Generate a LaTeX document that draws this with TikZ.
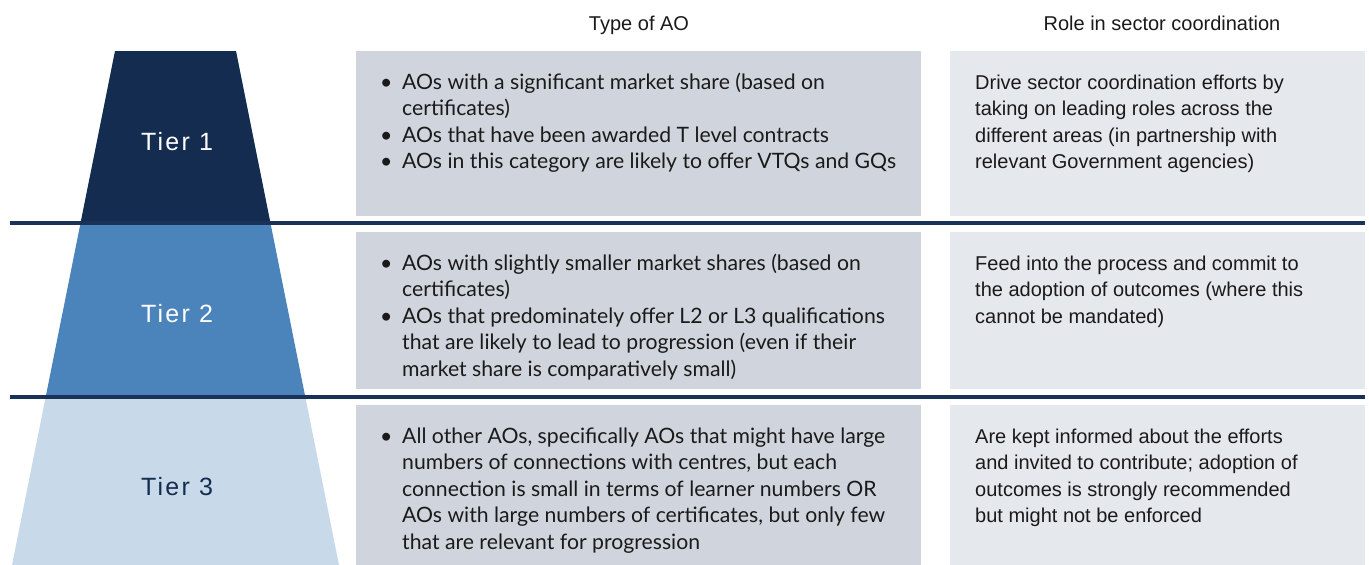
\documentclass[tikz,border=0pt]{standalone}
\usepackage{fontspec}
\setmainfont{Lato}
\newfontfamily\arialfont{Liberation Sans}
\newfontfamily\tierfont[LetterSpace=9]{Liberation Sans}

\definecolor{tierone}{HTML}{142C4F}
\definecolor{tiertwo}{HTML}{4A84BB}
\definecolor{tierthree}{HTML}{C8DAEA}
\definecolor{rulecol}{HTML}{1A3257}
\definecolor{midbox}{HTML}{D0D5DD}
\definecolor{rightbox}{HTML}{E5E8EC}
\definecolor{bodytext}{HTML}{1A1A1A}

% bullet with hanging indent
\newcommand\bl{\makebox[22pt][l]{\textbullet}}
\newcommand\hg{\hspace*{22pt}}

\begin{document}
\begin{tikzpicture}[x=1pt,y=-1pt,
  header/.style={anchor=base, inner sep=0, text=bodytext, font=\arialfont\fontsize{20}{24}\selectfont},
  tierlabel/.style={anchor=base, inner sep=0, font=\tierfont\fontsize{25}{30}\selectfont},
  midtext/.style={anchor=base west, inner sep=0, text=bodytext, font=\fontsize{21.2}{26.5}\selectfont},
  roletext/.style={anchor=base west, inner sep=0, text=bodytext, font=\arialfont\fontsize{20}{26.5}\selectfont},
  separator/.style={draw=rulecol, line width=3.5pt}
]
\useasboundingbox (0,0) rectangle (1369,565);

% tier pyramid bands
\fill[tierone]   (115,51) -- (236,51) -- (270.47,223) -- (80.53,223) -- cycle;
\fill[tiertwo]   (80.53,223) -- (270.47,223) -- (305.33,397) -- (45.67,397) -- cycle;
\fill[tierthree] (45.67,397) -- (305.33,397) -- (339,565) -- (12,565) -- cycle;

% content boxes
\fill[midbox]   (356,51)  rectangle (921,216);
\fill[rightbox] (950,51)  rectangle (1365,216);
\fill[midbox]   (356,232) rectangle (921,389);
\fill[rightbox] (950,232) rectangle (1365,389);
\fill[midbox]   (356,405) rectangle (921,565);
\fill[rightbox] (950,405) rectangle (1365,565);

% separators between tiers
\draw[separator] (10,223) -- (1365,223);
\draw[separator] (10,397) -- (1365,397);

% column headers
\node[header] (h1) at (639,30.5) {Type of AO};
\node[header] (h2) at (1162,30.5) {Role in sector coordination};

% tier labels
\node[tierlabel, text=white] (tier1) at (177,150) {Tier 1};
\node[tierlabel, text=white] (tier2) at (177,322) {Tier 2};
\node[tierlabel, text=tierone] (tier3) at (177,495) {Tier 3};

% type of AO
\node[midtext] (type1) at (380,89) {\parbox[t]{540pt}{%
\bl AOs with a significant market share (based on\\
\hg certificates)\\
\bl AOs that have been awarded T level contracts\\
\bl AOs in this category are likely to offer VTQs and GQs}};

\node[midtext] (type2) at (380,270) {\parbox[t]{540pt}{%
\bl AOs with slightly smaller market shares (based on\\
\hg certificates)\\
\bl AOs that predominately offer L2 or L3 qualifications\\
\hg that are likely to lead to progression (even if their\\
\hg market share is comparatively small)}};

\node[midtext] (type3) at (380,443) {\parbox[t]{540pt}{%
\bl All other AOs, specifically AOs that might have large\\
\hg numbers of connections with centres, but each\\
\hg connection is small in terms of learner numbers OR\\
\hg AOs with large numbers of certificates, but only few\\
\hg that are relevant for progression}};

% role in sector coordination
\node[roletext] (role1) at (975,89) {\parbox[t]{390pt}{%
Drive sector coordination efforts by\\
taking on leading roles across the\\
different areas (in partnership with\\
relevant Government agencies)}};

\node[roletext] (role2) at (975,270) {\parbox[t]{390pt}{%
Feed into the process and commit to\\
the adoption of outcomes (where this\\
cannot be mandated)}};

\node[roletext] (role3) at (975,443) {\parbox[t]{390pt}{%
Are kept informed about the efforts\\
and invited to contribute; adoption of\\
outcomes is strongly recommended\\
but might not be enforced}};
\end{tikzpicture}
\end{document}
